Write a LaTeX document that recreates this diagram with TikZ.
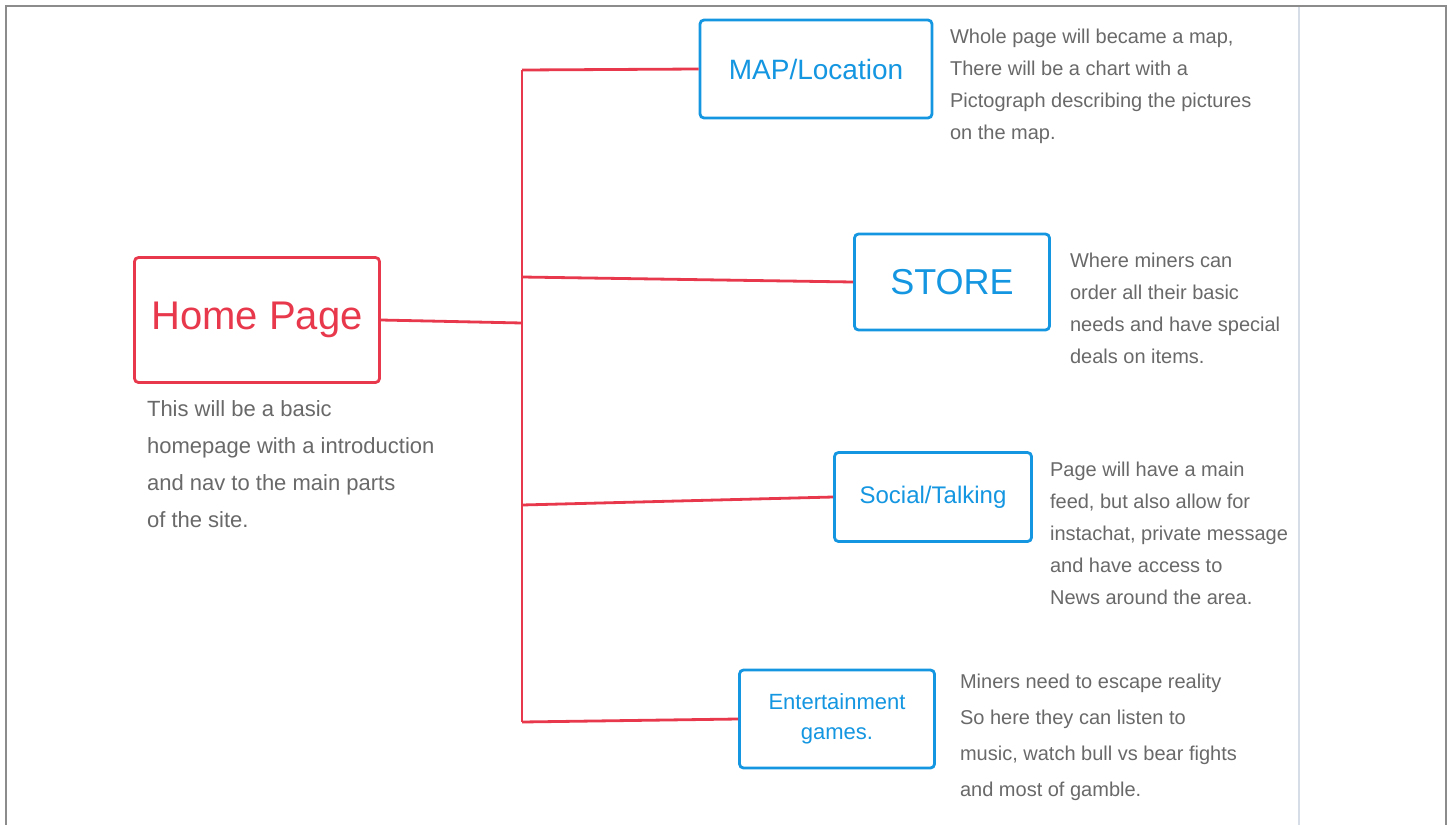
\documentclass[tikz,border=0pt]{standalone}
\usepackage{fontspec}
\setmainfont{Liberation Sans}
\usetikzlibrary{positioning}

\begin{document}
\begin{tikzpicture}[x=0.5pt,y=-0.5pt,
    pagebox/.style={draw=cBox,line width=1.4pt,rounded corners=2pt,text=cBox,align=center,inner sep=2pt},
    note/.style={anchor=north west,align=left,text=cNote,font=\fontsize{10}{16}\selectfont},
    link/.style={draw=cLink,line width=1.4pt}]
  \definecolor{cLink}{RGB}{232,56,76}
  \definecolor{cBox}{RGB}{20,150,225}
  \definecolor{cNote}{RGB}{105,105,105}
  \definecolor{cFrame}{RGB}{140,140,140}
  \definecolor{cMargin}{RGB}{215,221,230}

  \useasboundingbox (0,0) rectangle (1452,825);
  \fill[white] (0,0) rectangle (1452,825);

  % page frame and margin
  \draw[cMargin,line width=0.6pt] (1299,6) -- (1299,825);
  \draw[cFrame,line width=1.1pt] (6,825) -- (6,6) -- (1446,6) -- (1446,825);

  % --- home page ---
  \node[pagebox,draw=cLink,text=cLink,minimum width=122.5pt,minimum height=62.5pt,
        font=\fontsize{20}{24}\selectfont] (home) at (257,320) {Home Page};
  \node[note,font=\fontsize{11}{18.5}\selectfont] (homeNote) at (140,393)
    {This will be a basic\\homepage with a introduction\\and nav to the main parts\\of the site.};

  % --- sub pages ---
  \node[pagebox,minimum width=116pt,minimum height=49pt,font=\fontsize{14}{16}\selectfont]
    (map) at (816,69) {MAP/Location};
  \node[pagebox,minimum width=97.5pt,minimum height=48pt,font=\fontsize{18}{20}\selectfont]
    (store) at (952,282) {STORE};
  \node[pagebox,minimum width=98.5pt,minimum height=44.5pt,font=\fontsize{12}{14}\selectfont]
    (social) at (933,497) {Social/Talking};
  \node[pagebox,minimum width=97.5pt,minimum height=49pt,font=\fontsize{11}{15}\selectfont]
    (ent) at (837,719) {Entertainment\\games.};

  % --- notes ---
  \node[note] (mapNote) at (943,22)
    {Whole page will became a map,\\There will be a chart with a\\Pictograph describing the pictures\\on the map.};
  \node[note] (storeNote) at (1063,246)
    {Where miners can\\order all their basic\\needs and have special\\deals on items.};
  \node[note] (socialNote) at (1043,455)
    {Page will have a main\\feed, but also allow for\\instachat, private message\\and have access to\\News around the area.};
  \node[note,font=\fontsize{10}{18}\selectfont] (entNote) at (953,667)
    {Miners need to escape reality\\So here they can listen to\\music, watch bull vs bear fights\\and most of gamble.};

  % --- links ---
  \coordinate (tMap) at (522,70);
  \coordinate (tStore) at (522,277);
  \coordinate (tHome) at (522,323);
  \coordinate (tSocial) at (522,505);
  \coordinate (tEnt) at (522,722);

  \draw[link] (tMap) -- (tEnt);
  \draw[link] (home.east) -- (tHome);
  \draw[link] (tMap) -- (map.west);
  \draw[link] (tStore) -- (store.west);
  \draw[link] (tSocial) -- (social.west);
  \draw[link] (tEnt) -- (ent.west);
\end{tikzpicture}
\end{document}
